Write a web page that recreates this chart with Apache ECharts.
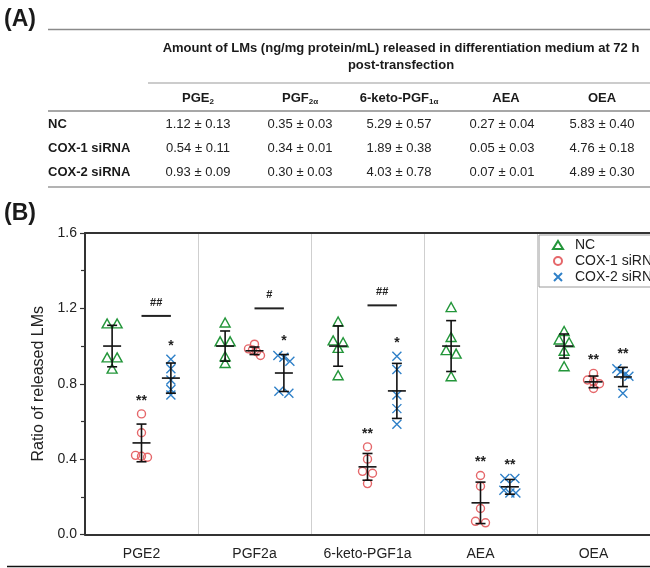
<!DOCTYPE html>
<html><head><meta charset="utf-8">
<script src="https://cdn.jsdelivr.net/npm/echarts@6.0.0/dist/echarts.min.js"></script>
<style>html,body{margin:0;padding:0;background:#fff}#c{width:650px;height:568px}</style>
</head><body><div id="c"></div>
<script>
// ---------- DATA ----------
const categories = ['PGE2', 'PGF2a', '6-keto-PGF1a', 'AEA', 'OEA'];
const groupNames = ['NC', 'COX-1 siRNA', 'COX-2 siRNA'];
const yTicks = [0, 0.4, 0.8, 1.2, 1.6];

const ncPoints = [
  [1.12, 1.12, 0.94, 0.94, 0.88],
  [1.125, 1.025, 1.025, 0.946, 0.91],
  [1.13, 1.03, 1.02, 0.99, 0.845],
  [1.207, 1.048, 0.978, 0.96, 0.84],
  [1.08, 1.035, 1.02, 0.975, 0.893]
];
const cox1Points = [
  [0.64, 0.54, 0.42, 0.415, 0.41],
  [1.01, 0.985, 0.98, 0.97, 0.95],
  [0.465, 0.40, 0.335, 0.325, 0.27],
  [0.313, 0.256, 0.138, 0.07, 0.062],
  [0.855, 0.82, 0.81, 0.80, 0.775]
];
const cox2Points = [
  [0.93, 0.88, 0.82, 0.77, 0.74],
  [0.95, 0.94, 0.92, 0.76, 0.75],
  [0.946, 0.875, 0.74, 0.668, 0.585],
  [0.297, 0.297, 0.235, 0.22, 0.22],
  [0.88, 0.865, 0.85, 0.84, 0.75]
];
const ncMean = [1.0, 1.0, 1.0, 1.0, 1.0];
const ncSD = [0.11, 0.08, 0.107, 0.135, 0.064];
const cox1Mean = [0.486, 0.975, 0.359, 0.168, 0.81];
const cox1SD = [0.10, 0.02, 0.071, 0.11, 0.031];
const cox2Mean = [0.83, 0.857, 0.762, 0.253, 0.836];
const cox2SD = [0.08, 0.098, 0.146, 0.039, 0.051];

const cox1Stars = ['**', '', '**', '**', '**'];
const cox2Stars = ['*', '*', '*', '**', '**'];
const hashMarks = ['##', '#', '##', '', ''];
const hashLevel = [1.16, 1.20, 1.216, null, null];

// table (A)
const tableColBase = ['PGE', 'PGF', '6-keto-PGF', 'AEA', 'OEA'];
const tableColSub = ['2', '2\u03b1', '1\u03b1', '', ''];
const tableRows = ['NC', 'COX-1 siRNA', 'COX-2 siRNA'];
const tableMean = [
  [1.12, 0.35, 5.29, 0.27, 5.83],
  [0.54, 0.34, 1.89, 0.05, 4.76],
  [0.93, 0.30, 4.03, 0.07, 4.89]
];
const tableSD = [
  [0.13, 0.03, 0.57, 0.04, 0.40],
  [0.11, 0.01, 0.38, 0.03, 0.18],
  [0.09, 0.03, 0.78, 0.01, 0.30]
];
const tableTitle1 = 'Amount of LMs (ng/mg protein/mL) released in differentiation medium at 72 h';
const tableTitle2 = 'post-transfection';

// ---------- STYLE / LAYOUT ----------
const F = "'Liberation Sans', Arial, Helvetica, sans-serif";
const colors = ['#23963a', '#e5676a', '#2f80c8'];
const groupOffset = [-0.26, 0, 0.26];
const allPoints = [ncPoints, cox1Points, cox2Points];
const allMean = [ncMean, cox1Mean, cox2Mean];
const allSD = [ncSD, cox1SD, cox2SD];
const symbols = ['triangle', 'circle', 'path://M0,0L10,10M10,0L0,10'];
const symSizes = [[10, 9], 8, 9];

const chart = echarts.init(document.getElementById('c'), null, {renderer: 'canvas'});

function groupPoints(gi, jitterFn) {
  const out = [];
  allPoints[gi].forEach((vals, ci) => {
    const offs = jitterFn ? jitterFn(vals) : vals.map(() => 0);
    vals.forEach((v, k) => out.push([ci + groupOffset[gi] + offs[k], v]));
  });
  return out;
}

function errData(gi) {
  return categories.map((c, ci) => [ci + groupOffset[gi], allMean[gi][ci], allSD[gi][ci]]);
}

// graphic elements for table (A) and panel labels
const g = [];
g.push({type: 'text', x: 4, y: 20, style: {text: '(A)', font: 'bold 23px ' + F, fill: '#1a1a1a', verticalAlign: 'middle'}});
g.push({type: 'text', x: 4, y: 214, style: {text: '(B)', font: 'bold 23px ' + F, fill: '#1a1a1a', verticalAlign: 'middle'}});
const hl = (x1, y, x2, col, w) => g.push({type: 'line', shape: {x1: x1, y1: y, x2: x2, y2: y}, style: {stroke: col, lineWidth: w}});
hl(48, 29.5, 650, '#8a8a8a', 1.6);
hl(148, 83, 650, '#9a9a9a', 1.2);
hl(48, 111, 650, '#8a8a8a', 1.4);
hl(48, 187, 650, '#9a9a9a', 1.6);
hl(7, 566.5, 650, '#111', 1.6);
g.push({type: 'text', x: 401, y: 48, style: {text: tableTitle1, font: 'bold 13px ' + F, fill: '#1a1a1a', align: 'center', verticalAlign: 'middle'}});
g.push({type: 'text', x: 401, y: 65, style: {text: tableTitle2, font: 'bold 13px ' + F, fill: '#1a1a1a', align: 'center', verticalAlign: 'middle'}});
const colX = [198, 300, 399, 506, 602];
const rowY = [124, 148, 172];
tableColBase.forEach((b, i) => {
  g.push({type: 'text', x: colX[i], y: 98, style: {
    text: '{m|' + b + '}' + (tableColSub[i] ? '{s|' + tableColSub[i] + '}' : ''),
    align: 'center', verticalAlign: 'middle',
    rich: {
      m: {fontSize: 13, fontWeight: 'bold', fontFamily: F, fill: '#1a1a1a', lineHeight: 16},
      s: {fontSize: 8, fontWeight: 'bold', fontFamily: F, fill: '#1a1a1a', lineHeight: 9, verticalAlign: 'bottom'}
    }
  }});
});
tableRows.forEach((r, ri) => {
  g.push({type: 'text', x: 48, y: rowY[ri], style: {text: r, font: 'bold 13px ' + F, fill: '#1a1a1a', verticalAlign: 'middle'}});
  tableMean[ri].forEach((m, ci) => {
    g.push({type: 'text', x: colX[ci] + (ci === 3 ? -4 : 0), y: rowY[ri], style: {
      text: m.toFixed(2) + ' \u00b1 ' + tableSD[ri][ci].toFixed(2),
      font: '13px ' + F, fill: '#222', align: 'center', verticalAlign: 'middle'}});
  });
});

// annotations
function starData(gi, stars) {
  const out = [];
  stars.forEach((s, ci) => {
    if (!s) return;
    const top = Math.max(Math.max.apply(null, allPoints[gi][ci]), allMean[gi][ci] + allSD[gi][ci]);
    out.push({value: [ci + groupOffset[gi], top], txt: s});
  });
  return out;
}
const starItems = starData(1, cox1Stars).concat(starData(2, cox2Stars));
const hashItems = [];
hashMarks.forEach((h, ci) => { if (h) hashItems.push({value: [ci + groupOffset[1], ci + groupOffset[2], hashLevel[ci]], txt: h}); });

function baseOption(pointsFn) {
  return {
    animation: false,
    textStyle: {fontFamily: F},
    grid: {left: 85, top: 233, width: 572.5, height: 301.5},
    graphic: {elements: g},
    legend: {
      data: groupNames, orient: 'vertical', left: 539, top: 235,
      padding: [3, 40, 3, 13], itemGap: 2, itemWidth: 10, itemHeight: 8,
      borderColor: '#9a9a9a', borderWidth: 1, backgroundColor: '#fff',
      textStyle: {fontSize: 14, color: '#222', fontFamily: F, padding: [0, 0, 0, 7], lineHeight: 14}, z: 10
    },
    xAxis: [
      {type: 'category', data: categories, position: 'bottom', boundaryGap: true,
       axisLine: {show: true, onZero: false, lineStyle: {color: '#333', width: 2}}, axisTick: {show: false},
       axisLabel: {interval: 0, fontSize: 14, color: '#222', margin: 13, fontFamily: F},
       splitLine: {show: true, interval: 0, lineStyle: {color: '#cfcfcf', width: 1}}},
      {type: 'value', min: -0.5, max: 4.5, show: false},
      {type: 'value', min: 0, max: 1, position: 'top', axisLine: {show: true, onZero: false, lineStyle: {color: '#333', width: 2}},
       axisTick: {show: false}, axisLabel: {show: false}, splitLine: {show: false}}
    ],
    yAxis: {
      type: 'value', min: yTicks[0], max: yTicks[yTicks.length - 1], interval: yTicks[1] - yTicks[0],
      position: 'left',
      axisLine: {show: true, onZero: false, lineStyle: {color: '#333', width: 2}},
      axisTick: {show: true, length: 5, lineStyle: {color: '#333', width: 1.2}},
      minorTick: {show: true, splitNumber: 2, length: 4, lineStyle: {color: '#333', width: 1.2}},
      axisLabel: {formatter: v => v.toFixed(1), fontSize: 14, color: '#222', margin: 8, fontFamily: F},
      splitLine: {show: false},
      name: 'Ratio of released LMs', nameLocation: 'middle', nameGap: 33,
      nameTextStyle: {fontSize: 16, color: '#222', fontFamily: F}
    },
    series: [
      ...[0, 1, 2].map(gi => ({
        type: 'scatter', name: groupNames[gi], xAxisIndex: 1, yAxisIndex: 0,
        symbol: symbols[gi], symbolSize: symSizes[gi], z: 3,
        itemStyle: {color: 'rgba(0,0,0,0)', borderColor: colors[gi], borderWidth: 1.4, opacity: 1},
        data: pointsFn(gi)
      })),
      ...[0, 1, 2].map(gi => ({
        type: 'custom', name: 'err' + gi, xAxisIndex: 1, yAxisIndex: 0, z: 4, silent: true,
        data: errData(gi),
        renderItem: (params, api) => {
          const x = api.value(0), m = api.value(1), s = api.value(2);
          const c = api.coord([x, m]), t = api.coord([x, m + s]), b = api.coord([x, m - s]);
          const st = {stroke: '#111', lineWidth: 1.6};
          const cw = 5, mw = 9;
          return {type: 'group', children: [
            {type: 'line', shape: {x1: c[0], y1: t[1], x2: c[0], y2: b[1]}, style: st},
            {type: 'line', shape: {x1: c[0] - cw, y1: t[1], x2: c[0] + cw, y2: t[1]}, style: st},
            {type: 'line', shape: {x1: c[0] - cw, y1: b[1], x2: c[0] + cw, y2: b[1]}, style: st},
            {type: 'line', shape: {x1: c[0] - mw, y1: c[1], x2: c[0] + mw, y2: c[1]}, style: st}
          ]};
        }
      })),
      {type: 'custom', name: 'stars', xAxisIndex: 1, yAxisIndex: 0, z: 5, silent: true,
       data: starItems,
       renderItem: (params, api) => {
         const p = api.coord([api.value(0), api.value(1)]);
         return {type: 'text', x: p[0], y: p[1] - 13, style: {text: starItems[params.dataIndex].txt,
           font: 'bold 14px ' + F, fill: '#222', align: 'center', verticalAlign: 'middle'}};
       }},
      {type: 'custom', name: 'hash', xAxisIndex: 1, yAxisIndex: 0, z: 5, silent: true,
       data: hashItems,
       renderItem: (params, api) => {
         const a = api.coord([api.value(0), api.value(2)]), b = api.coord([api.value(1), api.value(2)]);
         return {type: 'group', children: [
           {type: 'line', shape: {x1: a[0], y1: a[1], x2: b[0], y2: b[1]}, style: {stroke: '#222', lineWidth: 2}},
           {type: 'text', x: (a[0] + b[0]) / 2, y: a[1] - 13, style: {text: hashItems[params.dataIndex].txt,
             font: 'bold 11px ' + F, fill: '#222', align: 'center', verticalAlign: 'middle'}}
         ]};
       }}
    ]
  };
}

chart.setOption(baseOption(gi => groupPoints(gi, null)));

// beeswarm-style horizontal spread of overlapping points, computed from the axis scales
const pxPerX = chart.convertToPixel({xAxisIndex: 1}, 1) - chart.convertToPixel({xAxisIndex: 1}, 0);
function swarm(vals) {
  const py = vals.map(v => chart.convertToPixel({yAxisIndex: 0}, v));
  const idx = vals.map((v, i) => i).sort((a, b) => py[a] - py[b]);
  const clusters = [];
  let cur = [idx[0]];
  for (let k = 1; k < idx.length; k++) {
    if (py[idx[k]] - py[cur[cur.length - 1]] < 4.5) cur.push(idx[k]);
    else { clusters.push(cur); cur = [idx[k]]; }
  }
  clusters.push(cur);
  const off = vals.map(() => 0);
  clusters.forEach(c => {
    const n = c.length;
    const spread = Math.min(10 * (n - 1), 12);
    c.forEach((i, j) => { off[i] = (n > 1 ? (j / (n - 1) - 0.5) * spread : 0) / pxPerX; });
  });
  return off;
}
chart.setOption(baseOption(gi => groupPoints(gi, swarm)), true);
</script>
</body></html>
